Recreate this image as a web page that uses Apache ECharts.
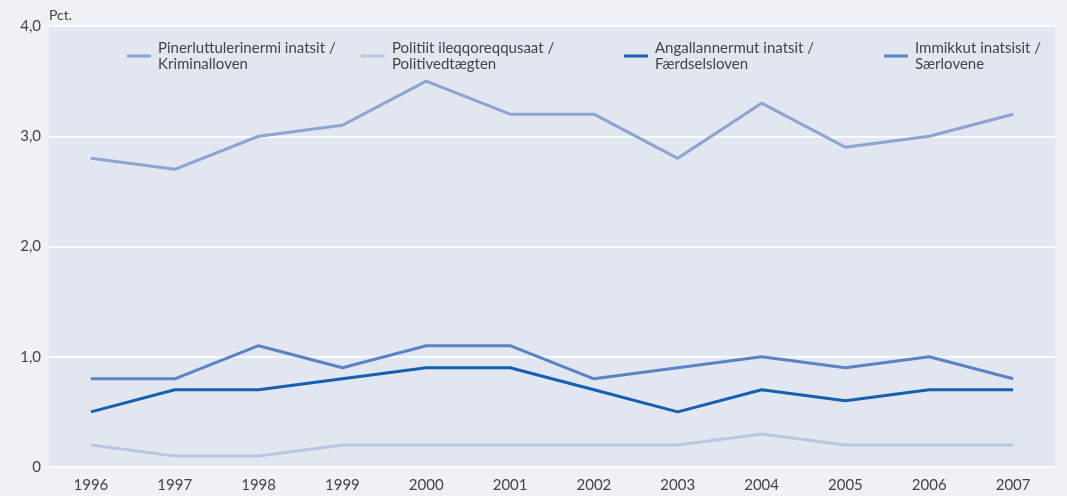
<!DOCTYPE html>
<html>
<head>
<meta charset="utf-8">
<script src="https://cdn.jsdelivr.net/npm/echarts@6/dist/echarts.min.js"></script>
<style>
html,body{margin:0;padding:0;background:#eef1f6;}
#c{width:1067px;height:496px;}
</style>
</head>
<body>
<div id="c"></div>
<script>
var years = ['1996','1997','1998','1999','2000','2001','2002','2003','2004','2005','2006','2007'];
var names = ['Pinerluttulerinermi inatsit /\nKriminalloven','Politiit ileqqoreqqusaat /\nPolitivedtægten','Angallannermut inatsit /\nFærdselsloven','Immikkut inatsisit /\nSærlovene'];
var kriminal = [2.8, 2.7, 3.0, 3.1, 3.5, 3.2, 3.2, 2.8, 3.3, 2.9, 3.0, 3.2];
var politi = [0.2, 0.1, 0.1, 0.2, 0.2, 0.2, 0.2, 0.2, 0.3, 0.2, 0.2, 0.2];
var faerdsel = [0.5, 0.7, 0.7, 0.8, 0.9, 0.9, 0.7, 0.5, 0.7, 0.6, 0.7, 0.7];
var saerlov = [0.8, 0.8, 1.1, 0.9, 1.1, 1.1, 0.8, 0.9, 1.0, 0.9, 1.0, 0.8];
var yTicks = ['0','1,0','2,0','3,0','4,0'];
var colors = ['#8ba4d2','#b9c6e0','#1660b4','#5a83c3'];
var seriesData = [kriminal, politi, faerdsel, saerlov];
var legendLeft = [122, 356, 619, 879];
var font = 'Lato, "Open Sans", sans-serif';

var chart = echarts.init(document.getElementById('c'));
var legends = names.map(function(n,i){
  return {
    data:[n], left: legendLeft[i], top: 27, orient:'horizontal',
    icon:'rect', itemWidth:24, itemHeight:3, itemGap:0,
    selectedMode:false,
    textStyle:{fontFamily:font, fontSize:15, color:'#444444', lineHeight:16, padding:[16,0,0,2]}
  };
});
chart.setOption({
  backgroundColor:'#eef1f6',
  animation:false,
  color: colors,
  legend: legends,
  grid:{left:49, right:12, top:26, bottom:29, show:true, backgroundColor:'#e1e6f0', borderWidth:0},
  xAxis:{
    type:'category', data: years, boundaryGap:true,
    axisLine:{show:false}, axisTick:{show:false},
    axisLabel:{fontFamily:font, fontSize:15, color:'#444444', margin:11}
  },
  yAxis:{
    type:'value', min:0, max:4, interval:1,
    name:'Pct.', nameLocation:'end', nameGap:4,
    nameTextStyle:{fontFamily:font, fontSize:14, color:'#444444', align:'left'},
    axisLine:{show:false}, axisTick:{show:false},
    splitLine:{lineStyle:{color:'#ffffff', width:1.5}},
    axisLabel:{fontFamily:font, fontSize:15, color:'#444444', margin:8,
      formatter:function(v){return yTicks[Math.round(v)];}}
  },
  series: seriesData.map(function(d,i){
    return {name:names[i], type:'line', data:d, symbol:'none', lineStyle:{width:3, color:colors[i]}, itemStyle:{color:colors[i]}};
  })
});
</script>
</body>
</html>
